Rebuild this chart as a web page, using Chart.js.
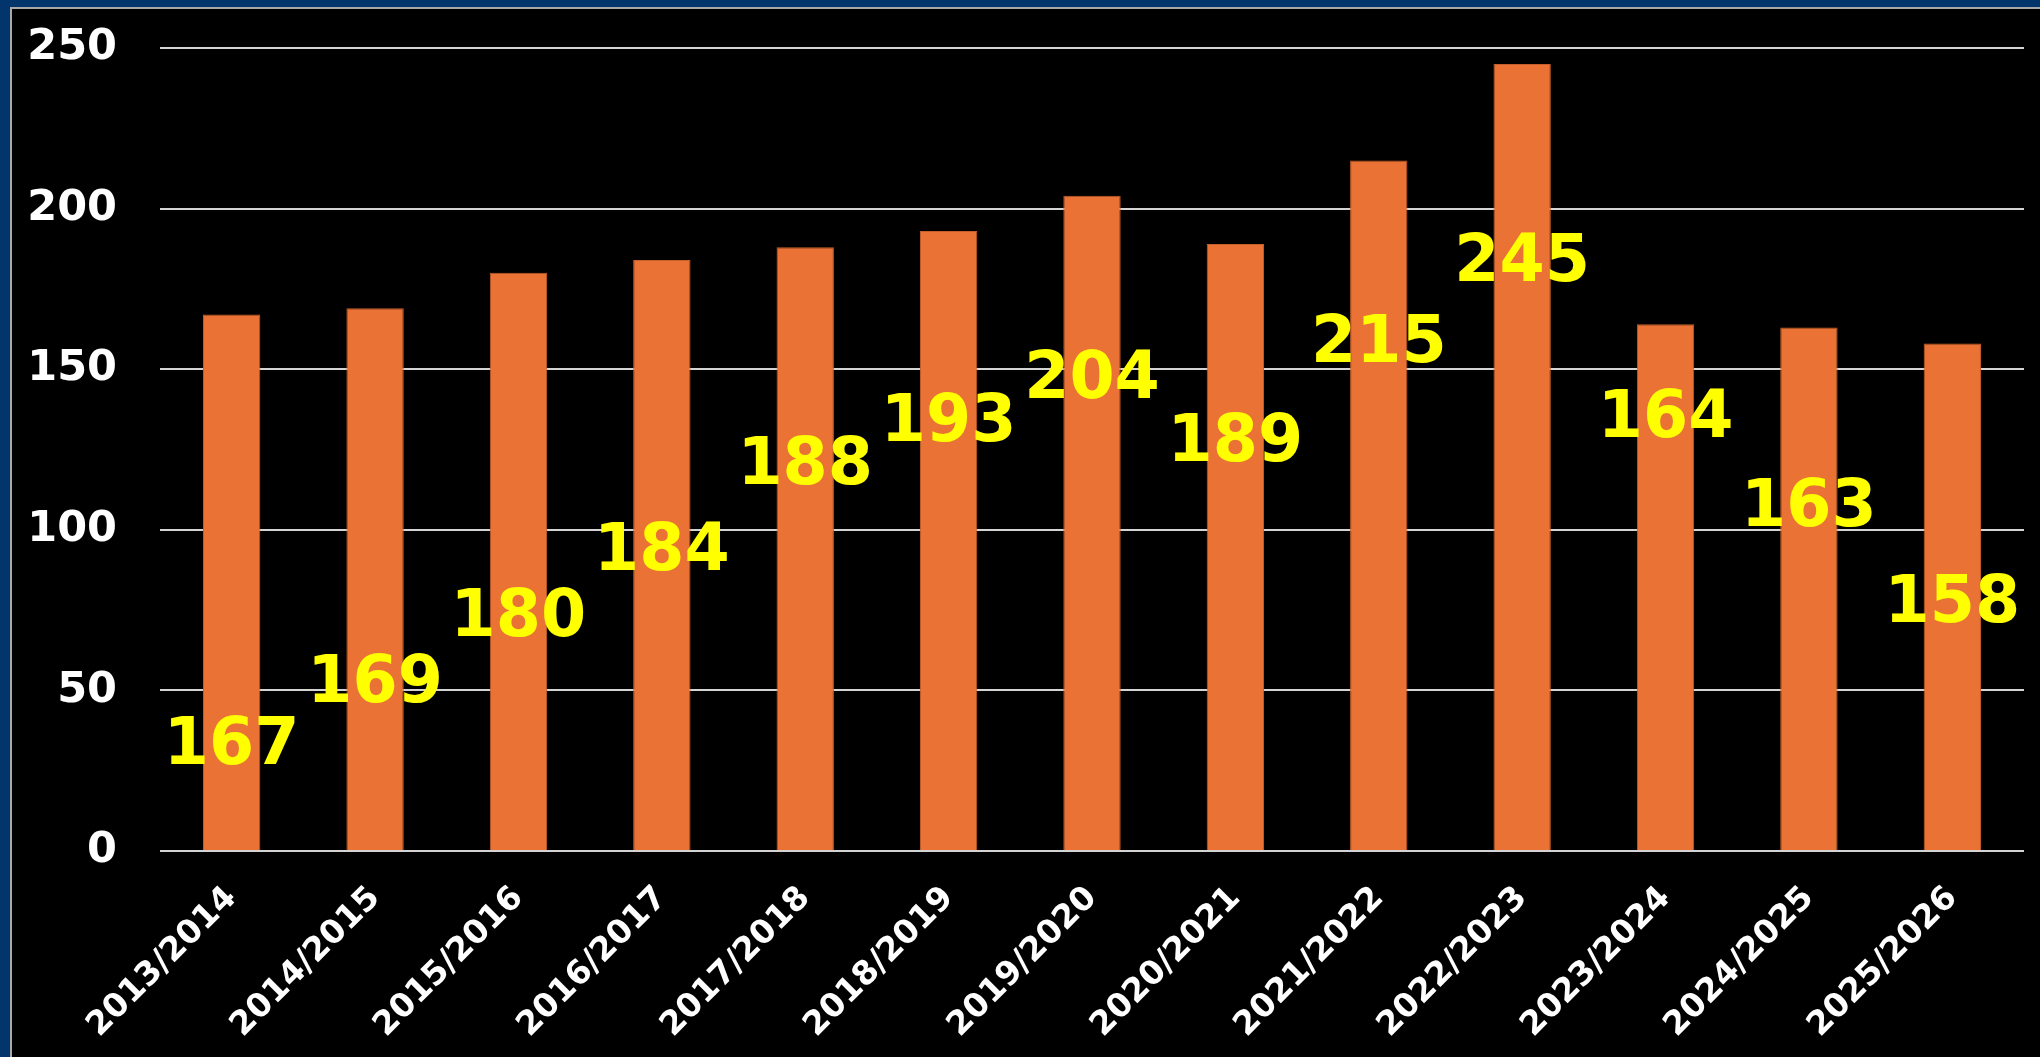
<!DOCTYPE html>
<html>
<head>
<meta charset="utf-8">
<script src="https://cdn.jsdelivr.net/npm/chart.js@4.4.1/dist/chart.umd.min.js"></script>
<style>
  html, body { margin: 0; padding: 0; background: #02356b; overflow: hidden; }
  #wrap {
    position: absolute; left: 10px; top: 7px; right: 0; bottom: 0;
    background: #000; border-left: 2px solid #a8a8a8; border-top: 2px solid #a8a8a8;
  }
  #chart { display: block; }
</style>
</head>
<body>
<div id="wrap"><canvas id="chart" width="2028" height="1048"></canvas></div>
<script>
const seasons = ['2013/2014', '2014/2015', '2015/2016', '2016/2017', '2017/2018', '2018/2019',
  '2019/2020', '2020/2021', '2021/2022', '2022/2023', '2023/2024', '2024/2025', '2025/2026'];
const counts = [167, 169, 180, 184, 188, 193, 204, 189, 215, 245, 164, 163, 158];
const yTicks = [0, 50, 100, 150, 200, 250];

const fontFamily = '"DejaVu Sans", Verdana, sans-serif';

// yellow value labels, drawn at a fixed level on the value axis for each bar
const valueLabels = {
  id: 'valueLabels',
  afterDatasetsDraw(chart, args, opts) {
    const { ctx, scales } = chart;
    const meta = chart.getDatasetMeta(0);
    ctx.save();
    ctx.font = `bold ${opts.size}px ${fontFamily}`;
    ctx.fillStyle = opts.color;
    ctx.textAlign = 'center';
    ctx.textBaseline = 'middle';
    meta.data.forEach((bar, i) => {
      ctx.fillText(String(counts[i]), bar.x, scales.y.getPixelForValue(opts.levels[i]));
    });
    ctx.restore();
  }
};

new Chart(document.getElementById('chart'), {
  type: 'bar',
  data: {
    labels: seasons,
    datasets: [{
      data: counts,
      backgroundColor: '#ea7235',
      borderColor: '#c45f2b',
      borderWidth: 1,
      barPercentage: 0.4,
      categoryPercentage: 1
    }]
  },
  options: {
    responsive: false,
    animation: false,
    layout: { padding: { left: 0, right: 16, top: 39, bottom: 0 } },
    plugins: {
      legend: { display: false },
      tooltip: { enabled: false },
      valueLabels: {
        size: 65,
        color: '#ffff00',
        levels: [32.5, 51.8, 72.3, 92.6, 119.6, 133, 146.3, 126.7, 157.4, 182.6, 134, 106.3, 76.4]
      }
    },
    scales: {
      x: {
        grid: { display: false },
        border: { display: false },
        afterFit(axis) {
          axis.paddingLeft = 0;
          axis.paddingRight = 0;
          axis.height = 206;
        },
        ticks: {
          color: '#ffffff',
          font: { family: fontFamily, size: 33, weight: 'bold' },
          minRotation: 45,
          maxRotation: 45,
          padding: 20
        }
      },
      y: {
        min: 0,
        max: 250,
        afterBuildTicks(axis) { axis.ticks = yTicks.map(v => ({ value: v })); },
        afterFit(axis) {
          axis.width = 148;
          axis.paddingTop = 0;
          axis.paddingBottom = 0;
        },
        grid: { color: '#d4d4d4', lineWidth: 2, drawTicks: false },
        border: { display: false },
        ticks: {
          color: '#ffffff',
          font: { family: fontFamily, size: 43, weight: 'bold' },
          padding: 43
        }
      }
    }
  },
  plugins: [valueLabels]
});
</script>
</body>
</html>
